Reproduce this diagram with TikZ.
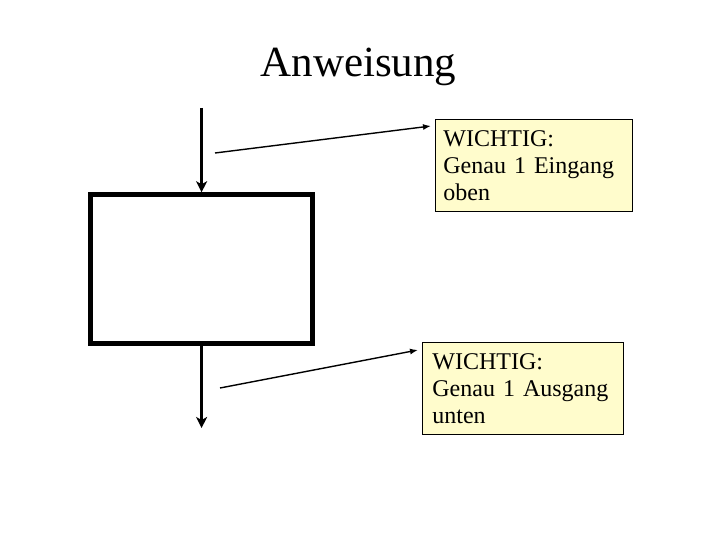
\documentclass[tikz,border=0pt]{standalone}
\usepackage{fontspec}
\setmainfont{Liberation Serif}
\usetikzlibrary{calc, arrows.meta}

\begin{document}
\begin{tikzpicture}[x=1pt, y=-1pt, thick,
    block/.style={draw, line width=4.5pt, minimum width=222pt, minimum height=149pt},
    fluss/.style={line width=2.6pt, -{Stealth[length=11pt, width=11pt, inset=3pt]}},
    hinweis/.style={draw, line width=0.8pt, fill=yellow!20, anchor=north west, align=left,
      text width=181pt, inner xsep=8pt, inner ysep=11pt,
      font=\fontsize{24}{27}\selectfont},
    zeiger/.style={line width=1.4pt, -{Latex[length=8pt, width=6pt]}}]
  \useasboundingbox (0,0) rectangle (720,540);

  \node[anchor=base, font=\fontsize{43}{50}\selectfont] (titel) at (358.5,77) {Anweisung};

  % Anweisungsblock mit Ein- und Ausgang
  \node[block] (blk) at (201.6,269) {};
  \coordinate (ein) at (201.6,108);
  \coordinate (aus) at (201.6,428);
  \draw[fluss] (ein) -- (blk.north);
  \draw[fluss] (blk.south) -- (aus);

  % Hinweise
  \node[hinweis] (hOben) at (435,119) {WICHTIG:\\Genau 1 Eingang\\oben};
  \node[hinweis, inner xsep=10pt] (hUnten) at (422,342) {WICHTIG:\\Genau 1 Ausgang\\unten};

  \coordinate (p1) at (215,153);
  \coordinate (p2) at (220,388);
  \draw[zeiger] (p1) -- ($(hOben.north west)+(-4,7)$);
  \draw[zeiger] (p2) -- ($(hUnten.north west)+(-4,8)$);
\end{tikzpicture}
\end{document}
